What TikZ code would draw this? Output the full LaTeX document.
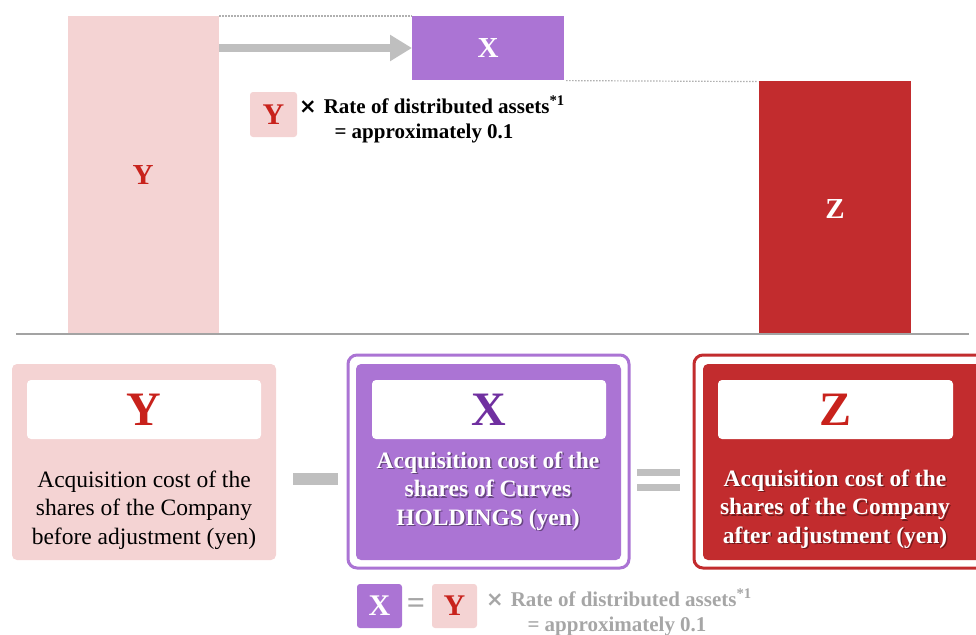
\documentclass[tikz,border=0pt]{standalone}
\usepackage{fontspec}
\setmainfont{Liberation Serif}
\newfontfamily\symfont{DejaVu Sans}
\usetikzlibrary{arrows.meta,calc}
\definecolor{pinkc}{HTML}{F4D3D3}
\definecolor{redtxt}{HTML}{C8221C}
\definecolor{purplec}{HTML}{AB74D4}
\definecolor{purpletxt}{HTML}{7030A0}
\definecolor{darkred}{HTML}{C22C2E}
\definecolor{grayc}{HTML}{BFBFBF}
\definecolor{axisc}{HTML}{A3A3A3}
\definecolor{graytxt}{HTML}{A6A6A6}
\definecolor{dotc}{HTML}{B0B0B0}
\tikzset{
  blk/.style={inner sep=0pt, outer sep=0pt, anchor=north west},
  letter/.style={font=\bfseries\fontsize{#1}{#1}\selectfont, inner sep=0pt},
  bodytxt/.style={align=center, inner sep=0pt, font=\fontsize{23.5}{28.5}\selectfont},
  boldbody/.style={align=center, inner sep=0pt, font=\bfseries\fontsize{23.5}{28.5}\selectfont, text=white},
  shadowtxt/.style={align=center, inner sep=0pt, font=\bfseries\fontsize{23.5}{28.5}\selectfont, text=black, opacity=0.4},
  rate/.style={inner sep=0pt, font=\bfseries\fontsize{21}{25}\selectfont, text height=14pt, text depth=4pt},
  dotline/.style={dotc, line width=1.2pt, dash pattern=on 1.5pt off 1.5pt},
  grayarrow/.style={grayc, line width=8pt, -{Triangle[length=22pt,width=25pt]}},
}
\newcommand{\timesmark}{{\symfont\bfseries\fontsize{21}{21}\selectfont ×}}
\begin{document}
\begin{tikzpicture}[x=1pt,y=-1pt]
\clip (0,0) rectangle (976,634);
% ---------- top chart ----------
\node[blk, fill=pinkc, minimum width=151pt, minimum height=317pt] (ybar) at (68,16) {};
\node[letter=29, text=redtxt] (ylab) at (143,175) {Y};
\node[blk, fill=purplec, minimum width=152pt, minimum height=64pt] (xbox) at (412,16) {};
\node[letter=29, text=white] (xlab) at (xbox.center) {X};
\node[blk, fill=darkred, minimum width=152pt, minimum height=252pt] (zbar) at (759,81) {};
\node[letter=29, text=white] (zlab) at (835,209) {Z};
\draw[dotline] (ybar.north east) -- (xbox.north west);
\draw[dotline] ($(xbox.south east)+(2,0.6)$) coordinate (d1) -- ($(zbar.north west)+(-1,0.6)$) coordinate (d2);
\draw[grayarrow] (ybar.east |- 0,48) -- (xbox.west |- 0,48);
% small Y box + rate text
\node[blk, fill=pinkc, rounded corners=3pt, minimum width=47pt, minimum height=45pt] (ysm) at (250,92) {};
\node[letter=30, text=redtxt] at (ysm.center) {Y};
\node[rate, anchor=west] (ratetop) at (299,108) {\timesmark\hspace{7pt}Rate of distributed assets\smash{\textsuperscript{*1}}};
\node[rate] (approxtop) at (424,133) {= approximately 0.1};
% axis
\coordinate (axl) at (16,334);
\coordinate (axr) at (969,334);
\draw[axisc, line width=2.5pt] (axl) -- (axr);
% ---------- bottom cards ----------
% Y card
\node[blk, fill=pinkc, rounded corners=5pt, minimum width=264pt, minimum height=196pt] (ycard) at (12,364) {};
\node[blk, fill=white, rounded corners=4pt, minimum width=234pt, minimum height=59pt] (ywhite) at (27,380) {};
\node[letter=48, text=redtxt] at (ywhite.center) {Y};
\node[bodytxt] (ytext) at (144,510) {Acquisition cost of the\\shares of the Company\\before adjustment (yen)};
% minus
\node[blk, fill=grayc, minimum width=45pt, minimum height=12pt] (minus) at (293,473) {};
% X card
\node[blk, draw=purplec, line width=3pt, fill=white, rounded corners=9pt, minimum width=281pt, minimum height=213pt] (xcard) at (348,355) {};
\node[blk, fill=purplec, rounded corners=5pt, minimum width=265pt, minimum height=196pt] (xinner) at (356,364) {};
\node[blk, fill=white, rounded corners=4pt, minimum width=234pt, minimum height=59pt] (xwhite) at (372,380) {};
\node[letter=48, text=purpletxt] at (xwhite.center) {X};
\node[shadowtxt] at (489.5,492.5) {Acquisition cost of the\\shares of Curves\\HOLDINGS (yen)};
\node[boldbody] (xtext) at (488,491) {Acquisition cost of the\\shares of Curves\\HOLDINGS (yen)};
% equals
\node[blk, fill=grayc, minimum width=43pt, minimum height=7pt] (eq1) at (637,469) {};
\node[blk, fill=grayc, minimum width=43pt, minimum height=7pt] (eq2) at (637,484) {};
% Z card (runs past the right edge)
\node[blk, draw=darkred, line width=3pt, fill=white, rounded corners=9pt, minimum width=300pt, minimum height=213pt] (zcard) at (694,355) {};
\node[blk, fill=darkred, rounded corners=5pt, minimum width=290pt, minimum height=196pt] (zinner) at (703,364) {};
\node[blk, fill=white, rounded corners=4pt, minimum width=235pt, minimum height=59pt] (zwhite) at (718,380) {};
\node[letter=48, text=redtxt] at (zwhite.center) {Z};
\node[shadowtxt] at (836.5,510.5) {Acquisition cost of the\\shares of the Company\\after adjustment (yen)};
\node[boldbody] (ztext) at (835,509) {Acquisition cost of the\\shares of the Company\\after adjustment (yen)};
% ---------- bottom formula ----------
\node[blk, fill=purplec, rounded corners=3pt, minimum width=45pt, minimum height=44pt] (xsm) at (357,584) {};
\node[letter=30, text=white] at (xsm.center) {X};
\node[letter=32, text=graytxt] (eqsm) at (416,606) {=};
\node[blk, fill=pinkc, rounded corners=3pt, minimum width=45pt, minimum height=44pt] (ysm2) at (432,584) {};
\node[letter=30, text=redtxt] at (ysm2.center) {Y};
\node[rate, anchor=west, text=graytxt] (ratebot) at (486,601) {\timesmark\hspace{7pt}Rate of distributed assets\smash{\textsuperscript{*1}}};
\node[rate, text=graytxt] (approxbot) at (617,626) {= approximately 0.1};
\end{tikzpicture}
\end{document}
